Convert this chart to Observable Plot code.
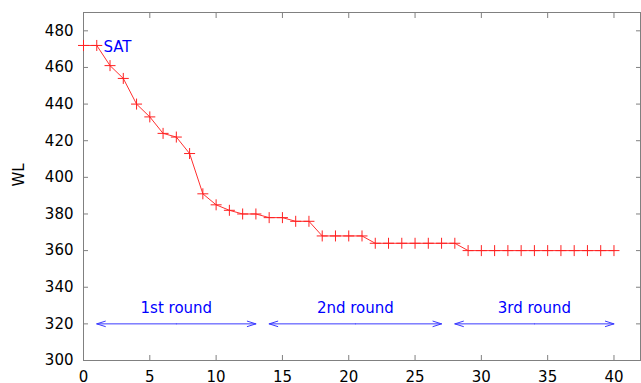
<!DOCTYPE html>
<html>
<head>
<meta charset="utf-8">
<script src="https://cdn.jsdelivr.net/npm/d3@7"></script>
<script src="https://cdn.jsdelivr.net/npm/@observablehq/plot@0.6"></script>
<style>
  html, body { margin: 0; padding: 0; background: #fff; }
  #chart svg { display: block; }
</style>
</head>
<body>
<div id="chart"></div>
<script>
// Data
const iteration = [0,1,2,3,4,5,6,7,8,9,10,11,12,13,14,15,16,17,18,19,20,21,22,23,24,25,26,27,28,29,30,31,32,33,34,35,36,37,38,39,40];
const wl = [472,472,461,454,440,433,424,422,413,391,385,382,380,380,378,378,376,376,368,368,368,368,364,364,364,364,364,364,364,360,360,360,360,360,360,360,360,360,360,360,360];
const roundNames = ["1st round", "2nd round", "3rd round"];
const roundStart = [1, 14, 28];
const roundEnd = [13, 27, 40];
const roundArrowY = 320;
const roundLabelY = 328.5;
const satLabel = {text: "SAT", x: 1.5, y: 471};
const xTicks = [0,5,10,15,20,25,30,35,40];
const yTicks = [300,320,340,360,380,400,420,440,460,480];

const points = iteration.map((x, i) => ({x, y: wl[i]}));
const rounds = roundNames.map((name, i) => ({
  name, start: roundStart[i], end: roundEnd[i], mid: (roundStart[i] + roundEnd[i]) / 2
}));

const plusSymbol = {
  draw(context, size) {
    const h = Math.sqrt(size / Math.PI);
    context.moveTo(-h, 0); context.lineTo(h, 0);
    context.moveTo(0, -h); context.lineTo(0, h);
  }
};

const frameColor = "#808080";
const chart = Plot.plot({
  width: 641,
  height: 383,
  marginLeft: 83,
  marginRight: 1,
  marginTop: 12,
  marginBottom: 23,
  style: {fontFamily: "DejaVu Sans", fontSize: "15px", color: "black", background: "white"},
  x: {domain: [0, 42]},
  y: {domain: [300, 490]},
  marks: [
    Plot.frame({stroke: frameColor}),
    Plot.axisX({anchor: "bottom", ticks: xTicks, tickSize: -5, tickPadding: 16, stroke: frameColor, fill: "black", label: null}),
    Plot.axisX({anchor: "top", ticks: xTicks, tickSize: -5, tickFormat: () => "", stroke: frameColor, label: null}),
    Plot.axisY({anchor: "left", ticks: yTicks, tickSize: -5, tickPadding: 15, stroke: frameColor, fill: "black", label: null}),
    Plot.axisY({anchor: "right", ticks: yTicks, tickSize: -5, tickFormat: () => "", stroke: frameColor, label: null}),
    Plot.text(["WL"], {frameAnchor: "left", dx: -64, rotate: -90, fill: "black"}),
    Plot.line(points, {x: "x", y: "y", stroke: "#ff3030", strokeWidth: 1}),
    Plot.dot(points, {x: "x", y: "y", symbol: plusSymbol, r: 5.5, fill: "none", stroke: "#ff2020", strokeWidth: 1}),
    Plot.arrow(rounds, {x1: "mid", x2: "start", y1: () => roundArrowY, y2: () => roundArrowY, stroke: "#3a3aff", strokeWidth: 1, headLength: 13.5, headAngle: 35}),
    Plot.arrow(rounds, {x1: "mid", x2: "end", y1: () => roundArrowY, y2: () => roundArrowY, stroke: "#3a3aff", strokeWidth: 1, headLength: 13.5, headAngle: 35}),
    Plot.text(rounds, {x: "mid", y: () => roundLabelY, text: "name", fill: "blue"}),
    Plot.text([satLabel], {x: "x", y: "y", text: "text", fill: "blue", textAnchor: "start"})
  ]
});
document.getElementById("chart").appendChild(chart);
</script>
</body>
</html>
